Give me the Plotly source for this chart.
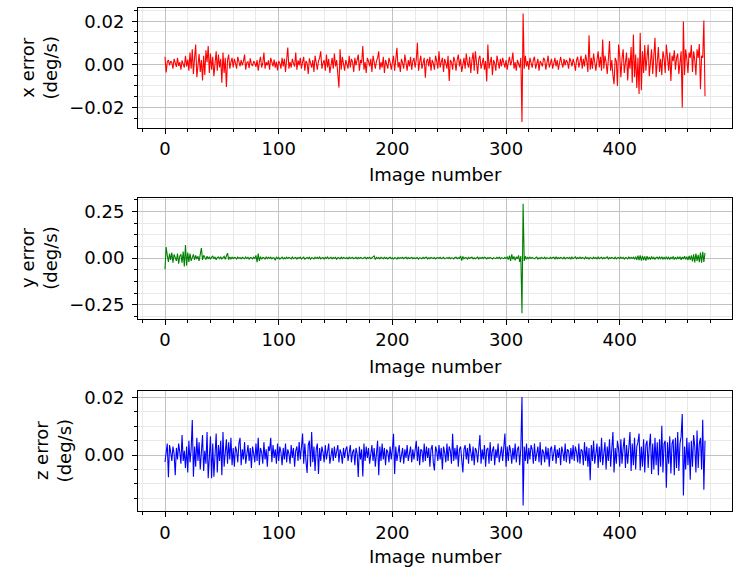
import plotly.graph_objects as go

# Angular-rate residuals per image, stored in integer units of 1e-4 deg/s
x_err_e4 = [
    35, -38, 12, 20, -5, 15, 8, -20, 25, 3, -12, 30, -8, 10, -25, 18, 5, -15, 40, -10,
    22, -30, 55, -20, 70, -45, 30, 92, -60, 15, 48, -35, 20, -75, 40, -50, 65, 10, 85, -40,
    50, -25, 35, -55, 20, 60, -30, 45, -15, 25, -85, 55, -40, 30, -105, 20, 45, -20, 10, 30,
    -15, 25, 5, -20, 35, 10, -10, 20, -5, 15, 45, -25, 8, 12, -18, 28, 0, -8, 15, 5,
    -12, 20, -30, 10, 35, -15, 5, 55, -20, 10, -5, 18, -25, 30, 8, -10, 22, -15, 12, -28,
    15, 5, -20, 30, -10, 25, -35, 12, 78, -20, 10, -15, 25, 5, -10, 55, -25, 18, -5, 30,
    -20, 10, 35, -30, 15, 5, -45, 28, 8, -15, 20, -35, 40, 10, -25, 15, 30, 60, -20, 5,
    20, -30, 45, -15, 25, -40, 10, 30, -20, 50, -10, 20, -45, -108, 70, -25, 35, 10, -30, 20,
    5, -20, 40, -15, 25, 10, -35, 30, -5, 15, 45, -30, 20, 5, 85, -25, 10, -40, 30, 15,
    -10, 25, -35, 40, 5, -20, 15, 30, 60, -25, 10, -15, 35, -40, 20, 5, -20, 30, 10, -25,
    15, 40, -30, 20, 77, -15, 10, -35, 25, 5, -20, 45, 10, -30, 20, -10, 35, -25, 15, 30,
    -15, 20, 100, -30, 10, 40, -20, 5, 30, -62, 15, 25, -10, 35, -30, 20, 5, -25, 40, 15,
    -20, 60, -15, 10, 30, -35, 25, 5, -20, 40, -77, 20, 10, -25, 35, 15, -30, 20, 45, -10,
    25, -35, 10, 30, -20, 50, 5, -15, 35, -40, 20, 55, -30, 60, 10, -45, 25, 40, -20, 5,
    30, -25, 15, -80, 92, -20, 10, 35, -50, 20, 5, -30, 40, 15, -20, 25, -10, 30, 5, -15,
    20, -25, 10, 35, -5, 15, 55, -20, 10, -30, 20, 5, -15, 30, -268, 236, -20, 40, -10, 15,
    -25, 30, 5, -15, 20, 35, -20, 10, 25, -30, 15, 5, -10, 30, 20, -25, 10, 40, -15, 5,
    25, -20, 15, 30, -10, 20, -25, 10, 35, 5, -15, 25, -5, 20, 10, -20, 30, 15, -10, 25,
    5, -30, 20, 35, -15, 10, 40, -20, 25, -10, 45, 15, -35, 135, -25, 30, -20, 50, 10, -30,
    20, 60, -15, 35, -30, 115, -20, 40, 10, -45, 25, 108, -30, 20, -50, -92, 30, 15, -100, 92,
    40, -60, 25, 70, -40, 15, 55, -75, 30, -20, 80, -85, 138, -60, 45, -110, 30, -138, 146, -120,
    60, -40, 90, -30, 50, 92, -55, 20, 70, -45, 35, 123, -60, 40, 80, -35, 25, -50, 60, 30,
    -40, 92, 20, -30, 55, -77, 40, 15, 65, -25, 30, 50, -45, 20, 60, -200, 199, -50, 70, 25,
    -40, 55, 30, 90, -35, 60, 20, -50, 70, 30, 94, -115, 40, 30, 203, -148,
]

y_err_e4 = [
    -600, 600, 150, -200, 250, -100, 300, -250, 200, 50, -150, 250, -300, 100, 200, -250, 350, -450, 700, -400,
    300, -200, 250, -150, 100, 200, -100, 150, -50, 100, -150, 200, 540, -100, 150, 50, -80, 100, -50, 80,
    -60, 50, 100, -40, 70, -90, 40, 60, -30, 80, -50, 30, 100, -60, 150, 270, -80, 60, -40, 50,
    -30, 40, 20, -50, 60, -20, 30, -40, 50, 10, -30, 60, -20, 40, -50, 30, 20, -40, 50, -20,
    150, -220, 240, -150, 80, -60, 40, 20, -50, 60, -30, 40, -20, 50, -40, 30, 10, -120, 70, -30,
    40, -50, 30, 60, -40, 20, -30, 50, -20, 40, 10, -40, 60, -30, 20, 40, -50, 30, -10, 50,
    -40, 30, 60, -50, 20, 40, -30, 50, -60, 30, 10, -40, 50, -20, 40, -30, 60, -40, 20, 30,
    -50, 40, -20, 60, -30, 20, 50, -40, 30, -10, 40, -60, 30, 20, -40, 50, -30, 40, 10, -20,
    30, -40, 50, -20, 20, 40, -30, 10, 50, -40, 30, -20, 40, 10, -30, 20, 50, -40, 30, -10,
    40, -30, 20, 60, 120, -80, 40, -20, 30, -40, 50, 10, -30, 40, -20, 30, -40, 20, 50, -30,
    20, -40, 30, 10, -50, 40, -20, 30, -10, 40, -30, 20, 50, -40, 30, -20, 10, 40, -30, 20,
    -20, 30, 40, -50, 20, 10, -30, 40, -20, 30, 50, -40, 20, -30, 40, 10, -20, 30, -40, 20,
    30, -20, 40, -30, 10, 50, -40, 20, 30, -20, 40, -30, 20, 10, -40, 30, 50, -30, 20, -20,
    120, -130, 90, -40, 30, 20, -50, 40, -20, 30, 50, -40, 20, -30, 40, 60, -50, 30, -20, 40,
    -30, 50, 20, -40, 30, -20, 40, 10, -50, 30, 20, -30, 40, -20, 50, -40, 30, 10, -30, 40,
    -20, 60, -80, 130, -150, 200, -60, 90, -120, 70, -40, 150, -200, 110, -2960, 2920, -150, 100, -60, 40,
    -30, 50, -20, 40, 10, -40, 30, 60, -50, 20, -30, 40, 10, -20, 50, -40, 30, 20, -30, 40,
    -20, 30, 50, -60, 80, -40, 30, -20, 40, 10, -30, 50, -40, 20, 30, -20, 40, -50, 60, -30,
    20, 70, -40, 30, -20, 50, -30, 40, 10, -40, 60, -20, 30, -50, 40, 20, -30, 50, -20, 30,
    -40, 60, -30, 20, 50, -40, 30, -20, 40, 70, -50, 30, -20, 40, 10, -30, 50, -40, 20, 30,
    -30, 50, -20, 40, -50, 30, 20, -40, 60, -30, 40, -20, 50, -60, 80, -90, 130, -110, 150, -140,
    120, -100, 90, -130, 110, -80, 60, -70, 90, -50, 40, -60, 30, 50, -40, 60, -30, 70, -50, 40,
    -60, 80, -40, 50, -70, 60, -30, 90, -80, 50, -60, 70, -40, 80, -90, 60, -50, 100, -70, 80,
    -100, 120, -90, 150, -180, 200, -230, 250, -150, 180, -220, 300, -250, 340, -200, 280,
]

z_err_e4 = [
    -24, 10, 40, -77, 35, 10, -20, 30, 5, -70, 25, -15, 40, 10, -30, 70, -20, 15, -45, 30,
    -60, 50, -25, 20, 122, -75, 30, -40, 60, -20, 45, -50, 25, 70, -55, 15, -30, 80, -80, 20,
    65, -80, 40, -75, 30, 75, -60, 35, -20, 50, -70, 80, -40, 20, 55, -30, 45, -15, 60, -35,
    25, -40, 30, 15, -25, 40, 60, -35, 20, -15, 45, -30, 10, 35, -20, 25, -45, 30, 5, -25,
    40, -20, 60, -35, 25, 10, -30, 45, -15, 20, -40, 30, 15, 60, -25, 35, -10, 20, -30, 40,
    -20, 30, 10, -35, 25, -15, 40, -25, 20, 5, -30, 35, -10, 25, -40, 15, 30, -20, 45, -15,
    25, 75, -30, 40, -20, -62, 35, 50, -40, 80, -25, 30, -55, 20, 40, -65, 25, -20, 30, 10,
    -25, 35, -15, 20, 40, -30, 10, 25, -20, 30, -10, 15, 35, -25, 20, 5, -30, 25, -10, 20,
    30, -20, 15, 35, -25, 10, 20, -35, 25, 5, -76, 30, -15, 20, -74, 40, -20, 30, -10, 25,
    -30, 15, 35, -20, 25, -40, 10, 50, -70, 30, -20, 40, -15, 25, -35, 20, 10, -25, 30, -15,
    20, 74, -65, 30, -20, 15, 35, -25, 10, 25, -30, 20, -10, 35, -20, 15, 30, -25, 20, -15,
    10, 50, -20, 30, -35, 20, 15, -25, 40, -20, 30, -10, 25, -40, 20, 35, -25, -53, 30, 15,
    -20, 35, -15, 25, -50, 30, 10, -25, 40, -20, 30, 15, -30, 74, -20, 25, -15, 35, -40, 20,
    30, -25, -60, 20, 35, -15, 25, -30, 40, 10, -20, 30, -35, 25, 15, -25, 40, 70, -30, 20,
    -15, 35, -40, 20, 25, -30, 45, -20, 15, 30, -35, 20, -10, 40, -25, 15, 30, -20, 25, 75,
    -40, 30, -20, 35, 15, -30, 25, -15, 40, -25, 20, 30, -35, 25, 202, -175, 30, -20, 40, -30,
    25, -15, 35, 20, -30, 40, -20, 15, 30, -25, 45, -35, 20, 10, -25, 30, -15, 25, -40, 20,
    30, -20, 15, 35, -30, 20, -10, 25, -35, 30, 10, -20, 40, -25, 20, 15, -30, 25, -15, 35,
    -20, 30, 10, -25, 40, -30, 20, 15, -35, 45, -20, 30, -40, 25, -87, 35, -20, 50, -30, 20,
    40, -45, 30, -25, 60, -35, 20, 45, -50, 30, -20, 55, -40, 35, 80, -60, 25, -30, 50, 20,
    -40, 55, -30, 25, 60, -45, 35, -30, 50, 80, -55, 40, -35, 60, -50, 30, 45, 75, -53, 30,
    -40, 55, -60, 35, 50, -45, 30, 74, -65, 40, -50, 60, -35, 45, -70, 55, -40, 102, -60, 40,
    50, -113, 45, -30, 65, -64, 40, 55, -70, 60, -45, 80, -55, 40, 65, 143, -140, 30, -50, 60,
    -35, 45, -85, 50, -40, 70, 30, -60, 85, -45, 40, 60, -50, 123, -120, 50,
]

UNIT = 1e-4
series = [
    ("x error<br>(deg/s)", [v * UNIT for v in x_err_e4], "#ff0000"),
    ("y error<br>(deg/s)", [v * UNIT for v in y_err_e4], "#008000"),
    ("z error<br>(deg/s)", [v * UNIT for v in z_err_e4], "#0000ff"),
]
y_major = [0.02, 0.25, 0.02]
y_minor = [0.005, 0.0625, 0.005]

W, H = 736, 570
ML, MR, MT, MB = 138, 3, 6, 59
plot_h = H - MT - MB
plot_w = W - ML - MR
# panel top/bottom edges in pixels
panels = [(6, 126), (197, 318), (391, 511)]
title_x_px = [38.5, 38.0, 53.0]
xlabel_y_px = [173, 366, 557]


def py(p):
    return (H - MB - p) / plot_h


def px(p):
    return (p - ML) / plot_w


FONT = "DejaVu Sans"
FS = 18
MAJOR_GRID = "#c2c2c2"
MINOR_GRID = "#e9e9e9"

n = max(len(s[1]) for s in series)
xr = [-0.05 * (n - 1), (n - 1) * 1.05]

fig = go.Figure()
layout = dict(
    width=W, height=H,
    margin=dict(l=ML, r=MR, t=MT, b=MB),
    paper_bgcolor="white", plot_bgcolor="white",
    showlegend=False,
    font=dict(family=FONT, size=FS, color="black"),
    annotations=[],
)

for i, (label, vals, color) in enumerate(series):
    k = "" if i == 0 else str(i + 1)
    idx = list(range(len(vals)))
    fig.add_trace(go.Scatter(
        x=idx, y=vals, mode="lines",
        line=dict(color=color, width=1.1),
        xaxis="x" + k, yaxis="y" + k, hoverinfo="skip",
    ))
    lo, hi = min(vals), max(vals)
    pad = 0.05 * (hi - lo)
    common = dict(
        showline=True, linecolor="black", linewidth=1, mirror=True,
        ticks="outside", ticklen=5, tickwidth=1, tickcolor="black",
        showgrid=True, gridcolor=MAJOR_GRID, gridwidth=1, zeroline=False,
        tickfont=dict(family=FONT, size=FS, color="black"),
    )
    top, bot = panels[i]
    layout["xaxis" + k] = dict(
        common, domain=[0, 1], anchor="y" + k, range=xr,
        tick0=0, dtick=100,
        minor=dict(ticks="outside", ticklen=3, tickcolor="black", tick0=0, dtick=20,
                   showgrid=True, gridcolor=MINOR_GRID, gridwidth=1),
    )
    layout["yaxis" + k] = dict(
        common, domain=[py(bot), py(top)], anchor="x" + k,
        range=[lo - pad, hi + pad], tick0=0, dtick=y_major[i], tickformat=".2f",
        ticklabelstandoff=4,
        minor=dict(ticks="outside", ticklen=3, tickcolor="black", tick0=0, dtick=y_minor[i],
                   showgrid=True, gridcolor=MINOR_GRID, gridwidth=1),
    )
    layout["annotations"].append(dict(
        text=label, textangle=-90, showarrow=False,
        xref="paper", yref="paper", x=px(title_x_px[i]), y=(py(top) + py(bot)) / 2,
        xanchor="center", yanchor="middle", font=dict(family=FONT, size=FS, color="black"),
    ))
    layout["annotations"].append(dict(
        text="Image number", showarrow=False,
        xref="paper", yref="paper", x=0.5, y=py(xlabel_y_px[i]),
        xanchor="center", yanchor="middle", font=dict(family=FONT, size=FS, color="black"),
    ))

fig.update_layout(**layout)
fig.write_html("out.html")
